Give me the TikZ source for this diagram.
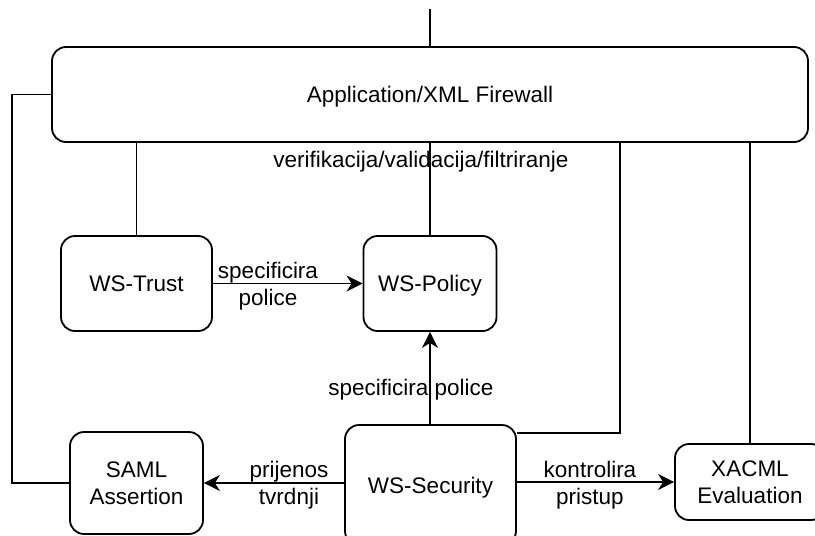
\documentclass[tikz,border=0pt]{standalone}
\usepackage{fontspec}
\setmainfont{Liberation Sans}
\usetikzlibrary{arrows.meta}
\begin{document}
\begin{tikzpicture}[x=1pt,y=-1pt,
 box/.style={draw, line width=1.8pt, rounded corners=14pt, align=center, font=\fontsize{22.5}{27}\selectfont, inner sep=0pt},
 one/.style={text depth=0pt},
 lbl/.style={font=\fontsize{22.5}{27}\selectfont, align=center, inner sep=0pt},
 conn/.style={line width=1.8pt},
 arr/.style={conn, -{Stealth[length=16pt,width=16pt,inset=5pt]}}]
\useasboundingbox (0,0) rectangle (815,536);
\node[box, one, minimum width=756pt, minimum height=95pt] (fw) at (430,94.5) {Application/XML Firewall};
\node[box, one, minimum width=151pt, minimum height=95pt] (trust) at (136.5,283.5) {WS-Trust};
\node[box, one, minimum width=133pt, minimum height=95pt] (policy) at (430,283.5) {WS-Policy};
\node[box, minimum width=133pt, minimum height=102pt] (saml) at (136.5,483) {SAML\\Assertion};
\node[box, one, minimum width=171pt, minimum height=120pt] (sec) at (430.5,485) {WS-Security};
\node[box, minimum width=150pt, minimum height=76pt] (xacml) at (750,482) {XACML\\Evaluation};
\coordinate (top) at (430,9);
\draw[conn] (top) -- (fw.north);
\draw[conn] (trust.north) -- (trust.north |- fw.south);
\draw[conn] (fw.south -| policy.north) -- (policy.north);
\draw[conn] (fw.west) -- ++(-39,0) |- (saml.west);
\draw[conn] ([yshift=-9pt]sec.north east) -| (fw.south -| 620,0);
\draw[conn] (xacml.north) -- (xacml.north |- fw.south);
\draw[arr] (trust.east) -- (policy.west);
\draw[arr] (sec.north -| policy.south) -- (policy.south);
\draw[arr] (saml.east -| sec.west) -- (saml.east);
\draw[arr] (xacml.west -| sec.east) -- (xacml.west);
\node[lbl] (l1) at (421,162) {verifikacija/validacija/filtriranje};
\node[lbl] (l2) at (268,286) {specificira\\police};
\node[lbl] (l3) at (411,390) {specificira police};
\node[lbl] (l4) at (289,485) {prijenos\\tvrdnji};
\node[lbl] (l5) at (590,485) {kontrolira\\pristup};
\end{tikzpicture}
\end{document}
